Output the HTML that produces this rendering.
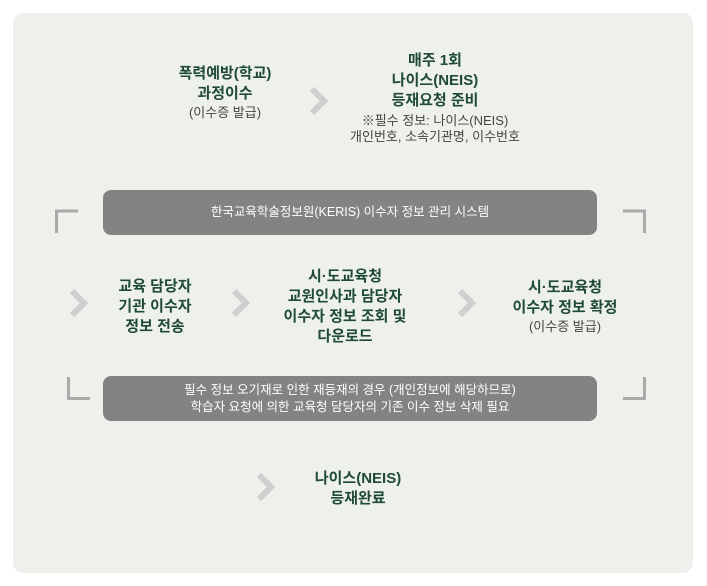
<!DOCTYPE html>
<html><head><meta charset="utf-8"><style>
body{margin:0;width:707px;height:586px;background:#fff;position:relative;font-family:"Liberation Sans","Noto Sans CJK KR",sans-serif;overflow:hidden}
.panel{position:absolute;left:13px;top:13px;width:680px;height:560px;background:#eef1eb;border-radius:10px}
.t{position:absolute;text-align:center;color:#1f4a37;font-weight:bold;font-size:15px;line-height:20px;white-space:nowrap;transform:translateX(-50%)}
.s{font-weight:normal;font-size:13px;color:#444;line-height:17px}
.bar{position:absolute;left:103px;width:494px;height:45px;background:#838383;border-radius:8px;color:#fff;font-size:12.5px;text-align:center;display:flex;align-items:center;justify-content:center;line-height:17px}
svg{position:absolute;left:0;top:0}
</style></head><body>
<div class="panel"></div>
<svg width="707" height="586">
<g fill="none" stroke="#cfcfcf" stroke-width="6" stroke-linecap="butt">
<polyline points="312,89 324,101 312,113"/>
<polyline points="72,291 84,303 72,315"/>
<polyline points="234,291 246,303 234,315"/>
<polyline points="460,291 472,303 460,315"/>
<polyline points="259,475 271,487 259,499"/>
</g>
<g fill="none" stroke="#a9a9a9" stroke-width="3">
<polyline points="78,211 56.5,211 56.5,233"/>
<polyline points="623,211 644.5,211 644.5,233"/>
<polyline points="68.5,377 68.5,398.5 90,398.5"/>
<polyline points="644.5,377 644.5,398.5 623,398.5"/>
</g>
</svg>
<div class="t" style="left:225px;top:64px">폭력예방(학교)<br>과정이수<div class="s">(이수증 발급)</div></div>
<div class="t" style="left:435px;top:51px">매주 1회<br>나이스(NEIS)<br>등재요청 준비<div class="s" style="margin-top:2px;line-height:16px">※필수 정보: 나이스(NEIS)<br>개인번호, 소속기관명, 이수번호</div></div>
<div class="bar" style="top:190px">한국교육학술정보원(KERIS) 이수자 정보 관리 시스템</div>
<div class="t" style="left:155px;top:277px">교육 담당자<br>기관 이수자<br>정보 전송</div>
<div class="t" style="left:345px;top:267px">시·도교육청<br>교원인사과 담당자<br>이수자 정보 조회 및<br>다운로드</div>
<div class="t" style="left:565px;top:278px">시·도교육청<br>이수자 정보 확정<div class="s">(이수증 발급)</div></div>
<div class="bar" style="top:376px">필수 정보 오기재로 인한 재등재의 경우 (개인정보에 해당하므로)<br>학습자 요청에 의한 교육청 담당자의 기존 이수 정보 삭제 필요</div>
<div class="t" style="left:358px;top:469px">나이스(NEIS)<br>등재완료</div>
</body></html>
